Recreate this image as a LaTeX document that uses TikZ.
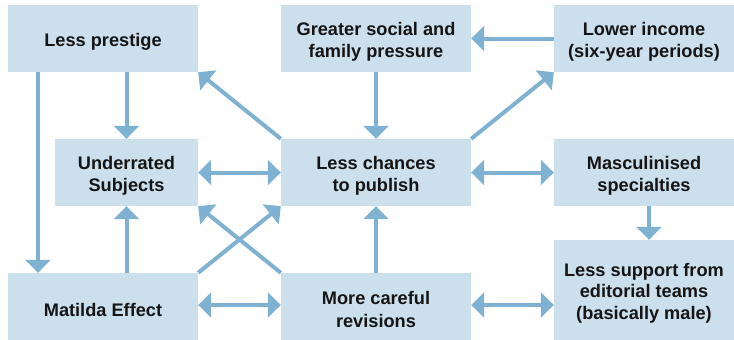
\documentclass[tikz,border=0pt]{standalone}
\usepackage{fontspec}
\setmainfont{Liberation Sans}
\usetikzlibrary{arrows.meta}
\definecolor{boxfill}{HTML}{CCDFEC}
\definecolor{arrowblue}{HTML}{7FB1D3}
\definecolor{textdark}{HTML}{151515}
% strut on the first line of each label: sets the text a little below centre
\newcommand{\firstline}{\rule{0pt}{19.3pt}}
\begin{document}
\begin{tikzpicture}[x=1pt,y=-1pt,
  box/.style={fill=boxfill, draw=none, inner sep=0pt, align=center,
    text=textdark, font=\bfseries\fontsize{18.2}{22.3}\selectfont,
    minimum height=67pt},
  link/.style={draw=arrowblue, line width=4pt,
    -{Triangle[length=13pt,width=25pt]}},
  both/.style={draw=arrowblue, line width=4pt,
    {Triangle[length=13pt,width=25pt]}-{Triangle[length=13pt,width=25pt]}}]
\useasboundingbox (0,0) rectangle (734,340);

% boxes
\node[box, minimum width=190pt] (prestige) at (103,38.5) {\firstline Less prestige};
\node[box, minimum width=190pt] (greater) at (376,38.5) {\firstline Greater social and\\family pressure};
\node[box, minimum width=180pt] (lower) at (644,38.5) {\firstline Lower income\\(six-year periods)};
\node[box, minimum width=143pt] (under) at (126.5,172.5) {\firstline Underrated\\Subjects};
\node[box, minimum width=190pt] (chances) at (376,172.5) {\firstline Less chances\\to publish};
\node[box, minimum width=180pt] (masc) at (644,172.5) {\firstline Masculinised\\specialties};
\node[box, minimum width=190pt] (matilda) at (103,306.5) {\firstline Matilda Effect};
\node[box, minimum width=190pt] (careful) at (376,306.5) {\firstline More careful\\revisions};
\node[box, minimum width=180pt, minimum height=100pt, font=\bfseries\fontsize{18.2}{21.6}\selectfont] (support) at (644,290) {\firstline Less support from\\editorial teams\\(basically male)};

% connectors
\draw[link] ([xshift=-65pt]prestige.south) -- ([xshift=-65pt]matilda.north);
\draw[link] (under.north |- prestige.south) -- (under.north);
\draw[link] (under.south |- matilda.north) -- (under.south);
\draw[link] (chances.north west) -- (prestige.south east);
\draw[link] (chances.north east) -- (lower.south west);
\draw[link] (lower.west) -- (greater.east);
\draw[link] (greater.south) -- (chances.north);
\draw[link] (careful.north) -- (chances.south);
\draw[link] (matilda.north east) -- (chances.south west);
\draw[link] (careful.north west) -- (under.south east);
\draw[link] ([xshift=5pt]masc.south) -- ([xshift=5pt]masc.south |- support.north);
\draw[both] (under.east) -- (chances.west);
\draw[both] (chances.east) -- (masc.west);
\draw[both] ([yshift=1.5pt]matilda.east) -- ([yshift=1.5pt]careful.west);
\draw[both] ([yshift=1.5pt]careful.east) -- ([yshift=1.5pt]careful.east -| support.west);
\end{tikzpicture}
\end{document}
